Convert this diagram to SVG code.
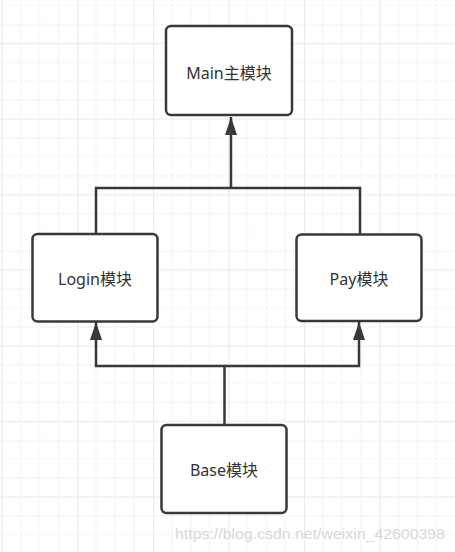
<svg xmlns="http://www.w3.org/2000/svg" width="455" height="552" viewBox="0 0 455 552">
<style>
.box{fill:#ffffff;stroke:#383838;stroke-width:2.5}
.lbl{font-family:"Noto Sans","Noto Sans CJK SC",sans-serif;font-size:16px;fill:#333333;text-anchor:middle}
.edge{fill:none;stroke:#383838;stroke-width:2.5}
.wm{font-family:"Liberation Sans",sans-serif;font-size:14px;fill:#d8d8d8}
</style>
<defs>
<pattern id="grid" patternUnits="userSpaceOnUse" x="1.7" y="5.7" width="75.6" height="75.6">
<path d="M18.9 0V75.6M37.8 0V75.6M56.7 0V75.6M0 18.9H75.6M0 56.7H75.6M0 75.6H75.6" stroke="#f1f1f1" stroke-width="1" fill="none"/>
<path d="M0.5 0V75.6M0 37.8H75.6" stroke="#e8e8e8" stroke-width="1" fill="none"/>
</pattern>
<marker id="arr" viewBox="0 0 12 18" refX="12" refY="6" markerWidth="12" markerHeight="18" markerUnits="userSpaceOnUse" orient="auto">
<path d="M0 0L18 6L0 12Z" fill="#383838"/>
</marker>
<marker id="ah" viewBox="0 0 18 12" refX="18" refY="6" markerWidth="18" markerHeight="12" markerUnits="userSpaceOnUse" orient="auto">
<path d="M0 0L18 6L0 12Z" fill="#383838"/>
</marker>
</defs>
<rect width="455" height="552" fill="#ffffff"/>
<rect width="455" height="552" fill="url(#grid)"/>
<g id="connectors">
<path class="edge" d="M96 233V188H360V234"/>
<path class="edge" d="M231 188V117" marker-end="url(#ah)"/>
<path class="edge" d="M224.5 425V366H96V322" marker-end="url(#ah)"/>
<path class="edge" d="M224.5 366H359V322" marker-end="url(#ah)"/>
</g>
<g id="main">
<rect class="box" x="166" y="26" width="126" height="89" rx="5"/>
<text class="lbl" x="229" y="79">Main主模块</text>
</g>
<g id="login">
<rect class="box" x="32.5" y="234" width="125" height="87.5" rx="5"/>
<text class="lbl" x="95" y="284.5">Login模块</text>
</g>
<g id="pay">
<rect class="box" x="296.5" y="234.5" width="125" height="86.5" rx="5"/>
<text class="lbl" x="359" y="284.5">Pay模块</text>
</g>
<g id="base">
<rect class="box" x="161.5" y="425" width="125" height="88" rx="5"/>
<text class="lbl" x="224" y="475.5">Base模块</text>
</g>
<text class="wm" x="175" y="539" textLength="270" lengthAdjust="spacingAndGlyphs">https://blog.csdn.net/weixin_42600398</text>
</svg>
